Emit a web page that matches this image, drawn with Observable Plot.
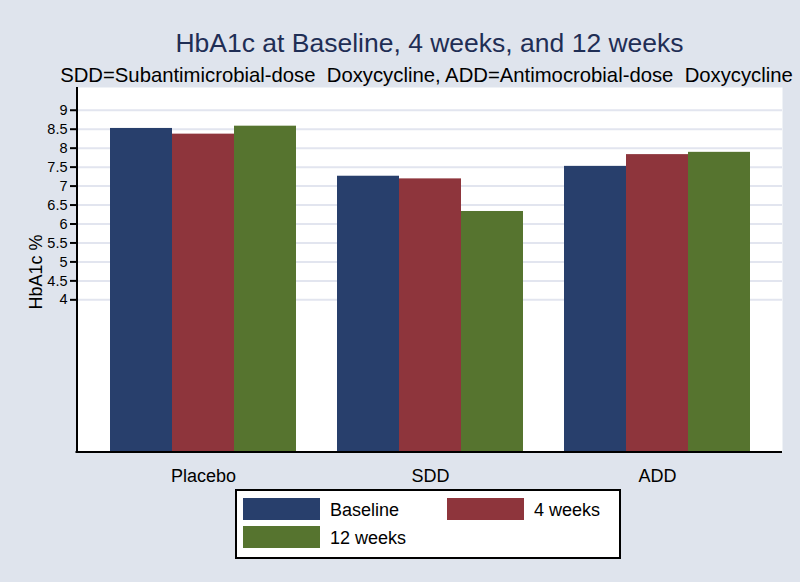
<!DOCTYPE html>
<html>
<head>
<meta charset="utf-8">
<script src="https://cdn.jsdelivr.net/npm/d3@7"></script>
<script src="https://cdn.jsdelivr.net/npm/@observablehq/plot@0.6"></script>
<style>
  html, body { margin: 0; padding: 0; background: #dfe4ed; }
  #chart { position: relative; width: 800px; height: 582px; }
  #chart svg { position: absolute; left: 0; top: 0; }
</style>
</head>
<body>
<div id="chart"></div>
<script>
// ---- data ----
const groups = ["Placebo", "SDD", "ADD"];
const series = ["Baseline", "4 weeks", "12 weeks"];
const baseline = [8.52, 7.26, 7.52];
const weeks4 = [8.37, 7.19, 7.83];
const weeks12 = [8.58, 6.33, 7.89];
const yTicks = [4, 4.5, 5, 5.5, 6, 6.5, 7, 7.5, 8, 8.5, 9];
const colors = ["#283f6c", "#8e353c", "#56742f"];
const titleText = "HbA1c at Baseline, 4 weeks, and 12 weeks";
const subtitleText = "SDD=Subantimicrobial-dose  Doxycycline, ADD=Antimocrobial-dose  Doxycycline";
const yLabel = "HbA1c %";

const valuesBySeries = [baseline, weeks4, weeks12];
const table = [];
groups.forEach((g, gi) => {
  series.forEach((s, si) => {
    table.push({group: g, series: s, value: valuesBySeries[si][gi]});
  });
});

const W = 800, H = 582;
const mL = 77, mR = 18, mT = 87, mB = 131;
const FONT = "'Liberation Sans', Arial, sans-serif";
const yDomain = [0, 9.6];

// background plot: white plot area, gridlines, y axis, axis lines
const back = Plot.plot({
  width: W, height: H,
  marginLeft: mL, marginRight: mR, marginTop: mT, marginBottom: mB,
  style: {background: "#dfe4ed", fontFamily: FONT, fontSize: "14.5px", color: "black"},
  x: {domain: [0, 1], axis: null},
  y: {domain: yDomain, ticks: yTicks, tickSize: 7, tickPadding: 3, label: null, tickFormat: d => String(d)},
  marks: [
    Plot.frame({fill: "white", stroke: null}),
    Plot.ruleY(yTicks, {stroke: "#e2e5ef", strokeWidth: 2}),
    Plot.ruleX([0], {stroke: "black", strokeWidth: 2, dx: -0.5, insetBottom: -1.5}),
    Plot.ruleY([0], {stroke: "black", strokeWidth: 2, dy: 0.5, insetLeft: -1.5})
  ]
});

// foreground plot: grouped bars
const front = Plot.plot({
  width: W, height: H,
  marginLeft: mL, marginRight: mR, marginTop: mT, marginBottom: mB,
  style: {background: "transparent", fontFamily: FONT, fontSize: "18px", color: "black"},
  facet: {data: table, x: "group"},
  fx: {domain: groups, paddingInner: 0.174, paddingOuter: 0.137, label: null, axis: "bottom", tickSize: 0, tickPadding: 18},
  x: {domain: series, padding: 0, axis: null},
  y: {domain: yDomain, axis: null},
  color: {domain: series, range: colors},
  marks: [
    Plot.barY(table, {x: "series", y: "value", fill: "series"})
  ]
});

const host = document.getElementById("chart");
host.appendChild(back);
host.appendChild(front);

// thicker y ticks
d3.select(back).selectAll('[aria-label^="y-axis"] line, [aria-label^="y-axis"] path')
  .attr("stroke-width", 2).style("stroke-width", "2px");

const svg = d3.select(front);
const colorS = front.scale("color");
const cx = (mL + W - mR) / 2;

// titles
svg.append("text").attr("x", cx).attr("y", 52).attr("text-anchor", "middle")
  .attr("font-family", FONT).attr("font-size", 26.5).attr("fill", "#1f2e55")
  .text(titleText);
svg.append("text").attr("x", cx - 3).attr("y", 82).attr("text-anchor", "middle")
  .attr("font-family", FONT).attr("font-size", 20.3).attr("fill", "black")
  .style("white-space", "pre").attr("xml:space", "preserve")
  .text(subtitleText);

// y label
svg.append("text").attr("transform", `translate(42,272) rotate(-90)`).attr("text-anchor", "middle")
  .attr("font-family", FONT).attr("font-size", 18).attr("fill", "black")
  .text(yLabel);

// legend
const lg = svg.append("g");
lg.append("rect").attr("x", 236).attr("y", 490).attr("width", 384).attr("height", 68)
  .attr("fill", "white").attr("stroke", "black").attr("stroke-width", 2);
const pos = [[243, 498], [447, 498], [243, 526]];
series.forEach((s, i) => {
  const [px, py] = pos[i];
  lg.append("rect").attr("x", px).attr("y", py).attr("width", 77).attr("height", 22).attr("fill", colorS.apply(s));
  lg.append("text").attr("x", px + 87).attr("y", py + 18).attr("text-anchor", "start")
    .attr("font-family", FONT).attr("font-size", 18).attr("fill", "black")
    .text(s);
});
</script>
</body>
</html>
